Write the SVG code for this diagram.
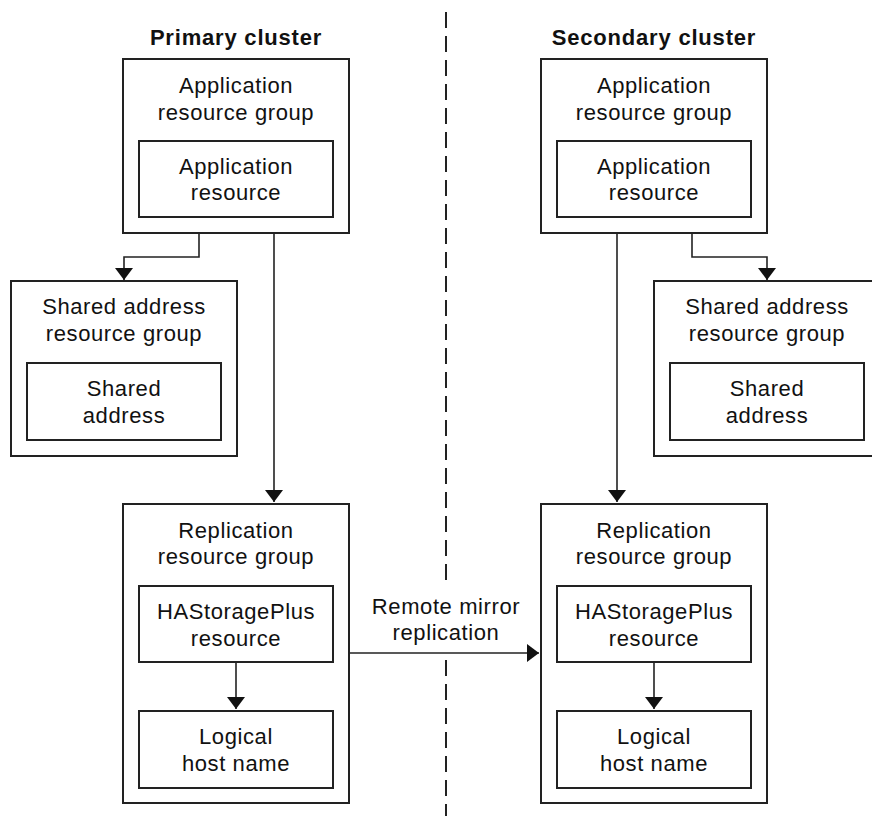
<svg xmlns="http://www.w3.org/2000/svg" width="872" height="816" viewBox="0 0 872 816">
  <defs>
    <marker id="arrow" markerUnits="userSpaceOnUse" markerWidth="12" markerHeight="18" refX="12" refY="9" orient="auto">
      <path d="M0,0 L12,9 L0,18 z" fill="#111"/>
    </marker>
    <style>
      .box { fill: #fff; stroke: #222; stroke-width: 2; }
      .lbl { font-family: "Liberation Sans", Arial, sans-serif; font-size: 22px; letter-spacing: 0.6px; fill: #111; text-anchor: middle; }
      .title { font-family: "Liberation Sans", Arial, sans-serif; font-size: 22px; font-weight: bold; letter-spacing: 0.8px; fill: #111; text-anchor: middle; }
      .conn { fill: none; stroke: #222; stroke-width: 1.6; }
      .divider { fill: none; stroke: #222; stroke-width: 2; stroke-dasharray: 16 8; }
    </style>
  </defs>
  <rect x="0" y="0" width="872" height="816" fill="#fff"/>

  <g id="divider">
    <line class="divider" x1="446" y1="12" x2="446" y2="580"/>
    <line class="divider" x1="446" y1="660" x2="446" y2="816"/>
  </g>

  <g id="titles">
    <text class="title" x="236" y="45">Primary cluster</text>
    <text class="title" x="654" y="45">Secondary cluster</text>
  </g>

  <g id="primary-app-rg">
    <rect class="box" x="123" y="59" width="226" height="174"/>
    <text class="lbl" x="236" y="93">Application</text>
    <text class="lbl" x="236" y="120">resource group</text>
  </g>
  <g id="primary-app-res">
    <rect class="box" x="139" y="141" width="194" height="76"/>
    <text class="lbl" x="236" y="174">Application</text>
    <text class="lbl" x="236" y="200">resource</text>
  </g>

  <g id="primary-shared-rg">
    <rect class="box" x="11" y="281" width="226" height="175"/>
    <text class="lbl" x="124" y="314">Shared address</text>
    <text class="lbl" x="124" y="341">resource group</text>
  </g>
  <g id="primary-shared-addr">
    <rect class="box" x="27" y="363" width="194" height="77"/>
    <text class="lbl" x="124" y="396">Shared</text>
    <text class="lbl" x="124" y="423">address</text>
  </g>

  <g id="primary-repl-rg">
    <rect class="box" x="123" y="504" width="226" height="299"/>
    <text class="lbl" x="236" y="538">Replication</text>
    <text class="lbl" x="236" y="564">resource group</text>
  </g>
  <g id="primary-hasp">
    <rect class="box" x="139" y="586" width="194" height="76"/>
    <text class="lbl" x="236" y="619">HAStoragePlus</text>
    <text class="lbl" x="236" y="646">resource</text>
  </g>
  <g id="primary-lhost">
    <rect class="box" x="139" y="711" width="194" height="77"/>
    <text class="lbl" x="236" y="744">Logical</text>
    <text class="lbl" x="236" y="771">host name</text>
  </g>

  <g id="secondary-app-rg">
    <rect class="box" x="541" y="59" width="226" height="174"/>
    <text class="lbl" x="654" y="93">Application</text>
    <text class="lbl" x="654" y="120">resource group</text>
  </g>
  <g id="secondary-app-res">
    <rect class="box" x="557" y="141" width="194" height="76"/>
    <text class="lbl" x="654" y="174">Application</text>
    <text class="lbl" x="654" y="200">resource</text>
  </g>

  <g id="secondary-shared-rg">
    <rect class="box" x="654" y="281" width="226" height="175"/>
    <text class="lbl" x="767" y="314">Shared address</text>
    <text class="lbl" x="767" y="341">resource group</text>
  </g>
  <g id="secondary-shared-addr">
    <rect class="box" x="670" y="363" width="194" height="77"/>
    <text class="lbl" x="767" y="396">Shared</text>
    <text class="lbl" x="767" y="423">address</text>
  </g>

  <g id="secondary-repl-rg">
    <rect class="box" x="541" y="504" width="226" height="299"/>
    <text class="lbl" x="654" y="538">Replication</text>
    <text class="lbl" x="654" y="564">resource group</text>
  </g>
  <g id="secondary-hasp">
    <rect class="box" x="557" y="586" width="194" height="76"/>
    <text class="lbl" x="654" y="619">HAStoragePlus</text>
    <text class="lbl" x="654" y="646">resource</text>
  </g>
  <g id="secondary-lhost">
    <rect class="box" x="557" y="711" width="194" height="77"/>
    <text class="lbl" x="654" y="744">Logical</text>
    <text class="lbl" x="654" y="771">host name</text>
  </g>

  <g id="connectors">
    <path class="conn" d="M199,234 V257 H124 V280" marker-end="url(#arrow)"/>
    <path class="conn" d="M274,234 V502" marker-end="url(#arrow)"/>
    <path class="conn" d="M236,663 V709" marker-end="url(#arrow)"/>
    <path class="conn" d="M350,653 H539" marker-end="url(#arrow)"/>
    <path class="conn" d="M617,234 V502" marker-end="url(#arrow)"/>
    <path class="conn" d="M692,234 V257 H767 V280" marker-end="url(#arrow)"/>
    <path class="conn" d="M654,663 V709" marker-end="url(#arrow)"/>
  </g>

  <g id="remote-label">
    <text class="lbl" x="446" y="614">Remote mirror</text>
    <text class="lbl" x="446" y="640">replication</text>
  </g>
</svg>
